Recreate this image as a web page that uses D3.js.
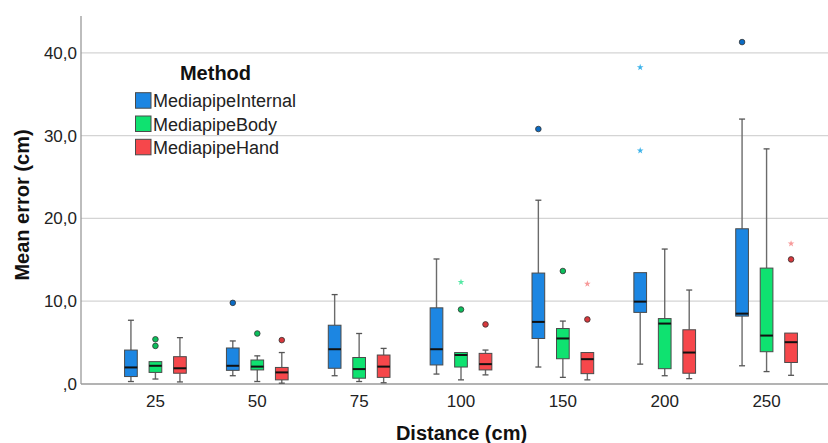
<!DOCTYPE html>
<html><head><meta charset="utf-8">
<script src="https://cdn.jsdelivr.net/npm/d3@7"></script>
<style>body{margin:0;background:#fff}svg{display:block;font-family:Arial,"Liberation Sans",sans-serif}</style>
</head><body><svg id="c" width="828" height="443"></svg>
<script>
const categories = ["25","50","75","100","150","200","250"];
const methods = ["MediapipeInternal","MediapipeBody","MediapipeHand"];
const yTicks = [0,10,20,30,40];
const yTickLabels = [",0","10,0","20,0","30,0","40,0"];
// per method: arrays aligned with categories
const whiskLow = [
  [0.3,1.0,1.0,1.2,2.05,2.4,2.2],
  [0.6,0.3,0.3,0.5,0.8,1.0,1.5],
  [0.25,0.1,0.15,1.1,0.5,0.65,1.05]];
const q1 = [
  [0.9,1.65,1.9,2.3,5.5,8.65,8.2],
  [1.4,1.7,0.7,2.05,3.05,1.85,3.9],
  [1.3,0.5,0.8,1.7,1.25,1.3,2.6]];
const median = [
  [2.0,2.2,4.2,4.2,7.5,9.95,8.5],
  [2.2,2.1,1.8,3.5,5.5,7.3,5.85],
  [1.9,1.4,2.1,2.4,3.0,3.8,5.05]];
const q3 = [
  [4.1,4.35,7.1,9.2,13.4,13.45,18.75],
  [2.7,2.9,3.2,3.8,6.7,7.9,14.0],
  [3.3,2.0,3.5,3.7,3.8,6.55,6.15]];
const whiskHigh = [
  [7.7,5.2,10.8,15.1,22.2,13.45,32.0],
  [2.7,3.4,6.1,3.8,7.6,16.3,28.4],
  [5.6,3.8,4.3,4.1,3.8,11.35,6.15]];
// outliers: [methodIndex, category, value]
const outliers = [
  [1,"25",5.4],[1,"25",4.6],
  [0,"50",9.8],[1,"50",6.1],[2,"50",5.3],
  [1,"100",9.0],[2,"100",7.2],
  [0,"150",30.8],[1,"150",13.65],[2,"150",7.8],
  [0,"250",41.3],[2,"250",15.05]];
const extremes = [
  [1,"100",12.3],[2,"150",12.1],
  [0,"200",38.25],[0,"200",28.2],
  [2,"250",16.95]];

const fills = ["#1c86e2","#0fe270","#f6474b"];
const dotFills = ["#0a6bc4","#0cbf5c","#d8383c"];
const starFills = ["#3db3ea","#54e8a4","#f79a9a"];

const svg = d3.select("#c");
const pLeft = 81, pRight = 828, pTop = 16, pBottom = 384;
const y = d3.scaleLinear().domain([0,44.45]).range([pBottom, pTop]);
const x = d3.scaleBand().domain(categories).range([104.5, 817.5]);
const bw = 12.7;
const off = i => x.bandwidth()/2 - 30.85 + i*24.5; // box left inside band

// gridlines
svg.append("g").selectAll("line").data(yTicks.filter(d=>d>0)).join("line")
  .attr("x1", pLeft).attr("x2", pRight).attr("y1", d=>y(d)).attr("y2", d=>y(d))
  .attr("stroke","#d4d4d4").attr("stroke-width",1.3);

// y axis
const yAxis = svg.append("g").attr("transform",`translate(${pLeft},0)`)
  .call(d3.axisLeft(y).tickValues(yTicks).tickSize(0).tickPadding(4).tickFormat((d,i)=>yTickLabels[i]));
yAxis.select(".domain").attr("stroke","#9a9a9a").attr("stroke-width",1.3).attr("d",`M0,${pBottom}V${pTop}`);
yAxis.selectAll("text").attr("font-size",17).attr("fill","#222").attr("font-family","Arial,'Liberation Sans',sans-serif");

// x axis
const xAxis = svg.append("g").attr("transform",`translate(0,${pBottom})`)
  .call(d3.axisBottom(x).tickSize(0).tickPadding(11));
xAxis.select(".domain").attr("stroke","#9a9a9a").attr("stroke-width",1.3).attr("d",`M${pLeft},0H${pRight}`);
xAxis.selectAll("text").attr("font-size",17).attr("fill","#222").attr("font-family","Arial,'Liberation Sans',sans-serif");

// boxes
methods.forEach((m,i)=>{
  const g = svg.append("g");
  categories.forEach((c,j)=>{
    const x0 = x(c) + off(i), cx = x0 + bw/2;
    const lo = whiskLow[i][j], hi = whiskHigh[i][j];
    g.append("line").attr("x1",cx).attr("x2",cx).attr("y1",y(lo)).attr("y2",y(q1[i][j])).attr("stroke","#6b6b6b").attr("stroke-width",1.4);
    g.append("line").attr("x1",cx).attr("x2",cx).attr("y1",y(hi)).attr("y2",y(q3[i][j])).attr("stroke","#6b6b6b").attr("stroke-width",1.4);
    [lo,hi].forEach(v=>{
      if (v===q3[i][j]) return;
      g.append("line").attr("x1",cx-3).attr("x2",cx+3).attr("y1",y(v)).attr("y2",y(v)).attr("stroke","#555").attr("stroke-width",1.3);
    });
    g.append("rect").attr("x",x0).attr("width",bw).attr("y",y(q3[i][j])).attr("height",y(q1[i][j])-y(q3[i][j]))
      .attr("fill",fills[i]).attr("stroke","#4a4a4a").attr("stroke-width",1);
    g.append("line").attr("x1",x0).attr("x2",x0+bw).attr("y1",y(median[i][j])).attr("y2",y(median[i][j]))
      .attr("stroke","#111").attr("stroke-width",2);
  });
});

// outliers
svg.append("g").selectAll("circle").data(outliers).join("circle")
  .attr("cx", d=>x(d[1])+off(d[0])+bw/2).attr("cy", d=>y(d[2])).attr("r",2.8)
  .attr("fill", d=>dotFills[d[0]]).attr("stroke","#333").attr("stroke-width",0.8);
svg.append("g").selectAll("path").data(extremes).join("path")
  .attr("transform", d=>`translate(${x(d[1])+off(d[0])+bw/2},${y(d[2])})`)
  .attr("d", d3.symbol(d3.symbolStar, 14)).attr("fill", d=>starFills[d[0]]);

// legend
const lg = svg.append("g");
lg.append("text").attr("x",215.5).attr("y",80).attr("text-anchor","middle").attr("font-size",20).attr("font-weight","bold").attr("fill","#111").text("Method");
methods.forEach((m,i)=>{
  const yy = 92.7 + i*23.3;
  lg.append("rect").attr("x",135.5).attr("y",yy).attr("width",15.5).attr("height",15.5).attr("fill",fills[i]).attr("stroke","#4a4a4a").attr("stroke-width",1);
  lg.append("text").attr("x",153).attr("y",yy+14.5).attr("font-size",18).attr("fill","#222").text(m);
});

// axis titles
svg.append("text").attr("x",461.5).attr("y",440).attr("text-anchor","middle").attr("font-size",20).attr("font-weight","bold").attr("fill","#111").text("Distance (cm)");
svg.append("text").attr("transform","translate(29,205) rotate(-90)").attr("text-anchor","middle").attr("font-size",20).attr("font-weight","bold").attr("fill","#111").text("Mean error (cm)");
</script></body></html>
